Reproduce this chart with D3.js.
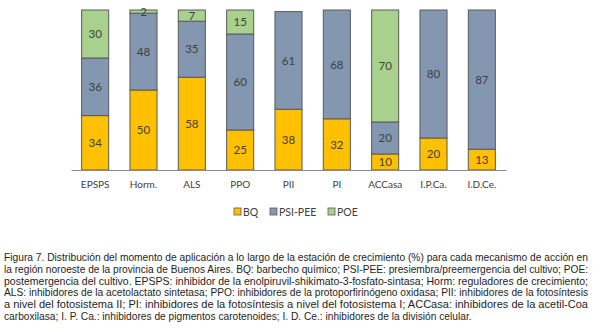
<!DOCTYPE html>
<html><head><meta charset="utf-8">
<script src="https://cdn.jsdelivr.net/npm/d3@7"></script>
<style>body{margin:0;background:#fff}svg{display:block}</style>
</head><body>
<svg id="c" width="600" height="332"></svg>
<script>
const categories = ["EPSPS","Horm.","ALS","PPO","PII","PI","ACCasa","I.P.Ca.","I.D.Ce."];
const seriesNames = ["BQ","PSI-PEE","POE"];
const BQ     = [34,50,58,25,38,32,10,20,13];
const PSIPEE = [36,48,35,60,61,68,20,80,87];
const POE    = [30, 2, 7,15, 0, 0,70, 0, 0];
const colors = ["#FFC000","#8497B0","#A9D18E"];
const captionLines = [
 "Figura 7. Distribución del momento de aplicación a lo largo de la estación de crecimiento (%) para cada mecanismo de acción en",
 "la región noroeste de la provincia de Buenos Aires. BQ: barbecho químico; PSI-PEE: presiembra/preemergencia del cultivo; POE:",
 "postemergencia del cultivo. EPSPS: inhibidor de la enolpiruvil-shikimato-3-fosfato-sintasa; Horm: reguladores de crecimiento;",
 "ALS: inhibidores de la acetolactato sintetasa; PPO: inhibidores de la protoporfirinógeno oxidasa; PII: inhibidores de la fotosíntesis",
 "a nivel del fotosistema II; PI: inhibidores de la fotosíntesis a nivel del fotosistema I; ACCasa: inhibidores de la acetil-Coa",
 "carboxilasa; I. P. Ca.: inhibidores de pigmentos carotenoides; I. D. Ce.: inhibidores de la división celular."
];

const data = categories.map((c,i)=>({cat:c, BQ:BQ[i], "PSI-PEE":PSIPEE[i], POE:POE[i]}));
const stack = d3.stack().keys(seriesNames)(data);

const svg = d3.select("#c");
const x = d3.scaleBand().domain(categories).range([71,506]).paddingInner(0.44).paddingOuter(0.22);
const y = d3.scaleLinear().domain([0,100]).range([170,10]);
const font = "Lato, 'Open Sans', sans-serif";

const g = svg.append("g");
stack.forEach((s,si)=>{
  g.selectAll(null).data(s.filter(d=>d[1]-d[0]>0)).enter().append("rect")
    .attr("x", d=>x(d.data.cat)).attr("width", x.bandwidth())
    .attr("y", d=>y(d[1])).attr("height", d=>y(d[0])-y(d[1]))
    .attr("fill", colors[si]).attr("stroke","#5a5a5a").attr("stroke-width",1);
});
stack.forEach((s,si)=>{
  g.selectAll(null).data(s.filter(d=>d[1]-d[0]>0)).enter().append("text")
    .attr("x", d=>x(d.data.cat)+x.bandwidth()/2)
    .attr("y", d=>(y(d[0])+y(d[1]))/2)
    .attr("dy","0.36em").attr("text-anchor","middle")
    .attr("font-family",font).attr("font-size",11.5).attr("fill","#404040")
    .text(d=>d[1]-d[0]);
});

// axis
const ax = svg.append("g").attr("transform","translate(0,170)")
  .call(d3.axisBottom(x).tickSize(0).tickPadding(11).tickSizeOuter(0));
ax.select(".domain").attr("stroke","#8a8a8a");
ax.selectAll("text").attr("font-family",font).attr("font-size",10).attr("fill","#404040");

// legend
const legX = [234,270,328];
const leg = svg.append("g");
seriesNames.forEach((n,i)=>{
  leg.append("rect").attr("x",legX[i]).attr("y",208).attr("width",7).attr("height",7)
    .attr("fill",colors[i]).attr("stroke","#5a5a5a").attr("stroke-width",0.8);
  leg.append("text").attr("x",legX[i]+9).attr("y",215.5).attr("font-family",font)
    .attr("font-size",10.5).attr("fill","#404040").text(n);
});

// caption
const cap = svg.append("g");
captionLines.forEach((t,i)=>{
  const tx = cap.append("text").attr("x",4).attr("y",261+i*11.8)
    .attr("font-family","'Liberation Sans', Arial, sans-serif").attr("font-size",10.2)
    .attr("fill","#1e1e1e").text(t);
  if(i<captionLines.length-1) tx.attr("textLength",584).attr("lengthAdjust","spacingAndGlyphs");
});
</script>
</body></html>
